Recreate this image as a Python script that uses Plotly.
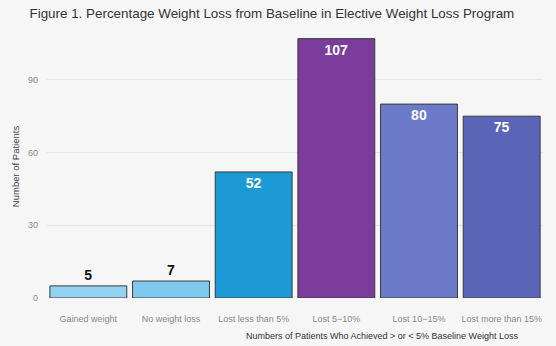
import plotly.graph_objects as go

categories = ["Gained weight", "No weight loss", "Lost less than 5%", "Lost 5\u221210%",
              "Lost 10\u221215%", "Lost more than 15%"]
patients = [5, 7, 52, 107, 80, 75]
bar_colors = ["#93d2f0", "#7fc9ee", "#1b9ad6", "#7b3c9c", "#6b7bc9", "#5b65b8"]
text_pos = ["outside", "outside", "inside", "inside", "inside", "inside"]
text_colors = ["#111111", "#111111", "white", "white", "white", "white"]
y_ticks = [0, 30, 60, 90]

fig = go.Figure(go.Bar(
    x=categories, y=patients,
    marker=dict(color=bar_colors, line=dict(color="#3a3a3a", width=1)),
    text=[str(v) for v in patients], textposition=text_pos,
    insidetextanchor="end",
    textfont=dict(family="Liberation Sans, Arial, sans-serif", size=14, color=text_colors, weight="bold"),
    cliponaxis=False,
))

fig.update_layout(
    width=556, height=346,
    margin=dict(l=47, r=13, t=35, b=48, autoexpand=False),
    paper_bgcolor="#f6f6f6", plot_bgcolor="#f6f6f6",
    bargap=0.07,
    showlegend=False,
    font=dict(family="Liberation Sans, Arial, sans-serif", color="#555555"),
    title=dict(text="Figure 1. Percentage Weight Loss from Baseline in Elective Weight Loss Program",
               x=0.489, xanchor="center", y=0.962, yanchor="middle",
               font=dict(size=13.4, color="#333333")),
    xaxis=dict(showgrid=False, showline=False, zeroline=False, automargin=False,
               tickfont=dict(size=9, color="#888888"), ticklabelstandoff=14),
    yaxis=dict(range=[0, 108.5], tickvals=y_ticks, showgrid=True, gridcolor="#e4e4e4",
               zeroline=False, showline=False, automargin=False,
               tickfont=dict(size=9, color="#888888"), ticklabelstandoff=8,
               title=dict(text="Number of Patients", font=dict(size=9.5, color="#444444"), standoff=6)),
    annotations=[dict(text="Numbers of Patients Who Achieved &gt; or &lt; 5% Baseline Weight Loss",
                      xref="paper", yref="paper", x=0.954, y=-0.144, xanchor="right", yanchor="middle",
                      showarrow=False, font=dict(size=9, color="#333333"))],
)

fig.write_html("out.html", config={"displayModeBar": False},
               post_script="document.body.style.margin='0';")
